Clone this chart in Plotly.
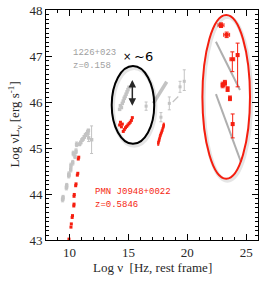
import plotly.graph_objects as go

# ---------------- data (log nu [Hz], log nuLnu [erg/s]) ----------------
# PMN J0948+0022 (red)
pmn_radio_nu = [9.95, 10.12, 10.15, 10.22, 10.25, 10.36, 10.38, 10.38, 10.40, 10.52, 10.55, 10.66, 10.70, 10.74, 10.78]
pmn_radio_L = [43.02, 43.28, 43.35, 43.49, 43.53, 43.74, 43.78, 43.95, 43.99, 44.18, 44.22, 44.41, 44.45, 44.76, 44.80]

pmn_opt_nu = [14.25, 14.32, 14.40, 14.48, 14.56, 14.65, 14.75, 14.85, 14.95, 15.05, 15.15, 15.25, 15.33]
pmn_opt_L = [45.50, 45.56, 45.46, 45.52, 45.36, 45.40, 45.44, 45.47, 45.50, 45.53, 45.56, 45.60, 45.66]

pmn_x_nu = [17.53, 17.58, 17.63, 17.68, 17.75, 17.82, 17.89, 17.96, 18.00]
pmn_x_L = [45.10, 45.15, 45.19, 45.25, 45.30, 45.35, 45.40, 45.46, 45.50]
pmn_x_err = [0.04, 0.04, 0.04, 0.04, 0.04, 0.04, 0.04, 0.04, 0.04]

pmn_g_nu = [22.86, 23.34, 23.82, 24.27, 23.00, 23.19, 23.42, 23.62, 23.85]
pmn_g_L = [47.67, 47.46, 46.93, 47.02, 46.37, 46.41, 46.28, 46.08, 45.52]
pmn_g_eup = [0.05, 0.06, 0.16, 0.26, 0.06, 0.06, 0.05, 0.05, 0.22]
pmn_g_edn = [0.05, 0.06, 0.27, 0.69, 0.06, 0.06, 0.05, 0.05, 0.30]
pmn_g_ex = [0.25, 0.25, 0.20, 0.05, 0.12, 0.12, 0.08, 0.05, 0.05]

# 1226+023 (3C 273, grey)
c_radio_nu = [9.41, 9.45, 9.73, 9.76, 9.93, 9.95, 10.10, 10.12, 10.27, 10.32, 10.46, 10.55, 10.60]
c_radio_L = [43.88, 43.92, 44.14, 44.18, 44.40, 44.43, 44.53, 44.62, 44.68, 44.88, 44.82, 44.93, 45.08]

c_mm_nu = [10.85, 10.95, 11.05, 11.15, 11.25, 11.35, 11.45, 11.55, 11.60, 11.62, 11.87]
c_mm_L = [45.08, 45.12, 45.17, 45.20, 45.24, 45.28, 45.31, 45.35, 45.38, 45.22, 45.18]
c_mm_err = [0.03, 0.03, 0.03, 0.03, 0.03, 0.03, 0.03, 0.03, 0.03, 0.08, 0.30]

c_opt_nu = [14.25, 14.32, 14.40, 14.48, 14.56, 14.64, 14.72, 14.80, 14.88, 14.96, 15.05]
c_opt_L = [45.84, 45.92, 45.88, 45.97, 46.02, 46.08, 46.12, 46.17, 46.22, 46.27, 46.32]

c_hx_nu = [16.50, 17.76, 18.47, 19.38, 19.74]
c_hx_L = [45.91, 45.67, 45.97, 46.33, 46.45]
c_hx_eup = [0.09, 0.10, 0.14, 0.12, 0.25]
c_hx_edn = [0.09, 0.10, 0.14, 0.12, 0.20]

c_xspec1_nu = [17.11, 18.25]
c_xspec1_L = [45.97, 46.44]
c_xspec2_nu = [18.76, 19.23]
c_xspec2_L = [46.00, 46.12]

c_gam1_nu = [22.43, 24.47]
c_gam1_L = [47.31, 46.26]
c_gam2_nu = [22.43, 24.55]
c_gam2_L = [46.17, 44.70]

# highlight ellipses (x0, x1, y0, y1) and arrow
black_ell = [13.58, 17.19, 45.09, 46.78]
red_ell = [21.28, 25.32, 44.33, 47.89]
arrow_nu = 15.33
arrow_L = [45.70, 46.48]

x_ticks = [10, 15, 20, 25]
y_ticks = [43, 44, 45, 46, 47, 48]

RED = "rgb(245,30,15)"
GREY = "rgb(195,195,195)"
SERIF = "Liberation Serif"
MONO = "Liberation Mono"

fig = go.Figure()

def pts(x, y, color, size=3, **kw):
    fig.add_trace(go.Scatter(x=x, y=y, mode="markers",
                             marker=dict(symbol="square", size=size, color=color, line=dict(width=0)),
                             showlegend=False, **kw))

def seg(x, y, color, width):
    fig.add_trace(go.Scatter(x=x, y=y, mode="lines", line=dict(color=color, width=width),
                             showlegend=False))

# grey 3C273
pts(c_radio_nu, c_radio_L, GREY, 3.5,
    error_y=dict(type="constant", value=0.05, color=GREY, thickness=1, width=1.5))
pts(c_mm_nu, c_mm_L, GREY, 3.5,
    error_y=dict(type="data", array=c_mm_err, color=GREY, thickness=1, width=1.5))
pts(c_opt_nu, c_opt_L, GREY, 3.5)
pts(c_hx_nu, c_hx_L, GREY, 3,
    error_y=dict(type="data", array=c_hx_eup, arrayminus=c_hx_edn, color=GREY, thickness=1, width=1.5))
seg(c_xspec1_nu, c_xspec1_L, GREY, 3.5)
seg(c_xspec2_nu, c_xspec2_L, GREY, 1.2)
seg(c_gam1_nu, c_gam1_L, "rgb(175,175,175)", 2)
seg(c_gam2_nu, c_gam2_L, "rgb(175,175,175)", 2)

# red PMN J0948+0022
pts(pmn_radio_nu, pmn_radio_L, RED, 3)
pts(pmn_opt_nu, pmn_opt_L, RED, 3)
pts(pmn_x_nu, pmn_x_L, RED, 2.5,
    error_y=dict(type="data", array=pmn_x_err, color=RED, thickness=1, width=1))
pts(pmn_g_nu, pmn_g_L, RED, 4,
    error_y=dict(type="data", array=pmn_g_eup, arrayminus=pmn_g_edn, color=RED, thickness=1, width=2),
    error_x=dict(type="data", array=pmn_g_ex, color=RED, thickness=1, width=2))

shapes = []
for ell, col in [(black_ell, "black"), (red_ell, RED)]:
    x0, x1, y0, y1 = ell
    # soft shadow
    shapes.append(dict(type="circle", xref="x", yref="y", x0=x0 + 0.1, x1=x1 + 0.1,
                       y0=y0 - 0.04, y1=y1 - 0.04, line=dict(color="rgba(0,0,0,0.10)", width=4),
                       layer="above"))
    shapes.append(dict(type="circle", xref="x", yref="y", x0=x0, x1=x1, y0=y0, y1=y1,
                       line=dict(color=col, width=2), layer="above"))

annotations = [
    dict(x=arrow_nu, y=arrow_L[1], ax=arrow_nu, ay=arrow_L[0], xref="x", yref="y",
         axref="x", ayref="y", showarrow=True, arrowhead=2, arrowside="end+start",
         arrowsize=1, arrowwidth=1.5, arrowcolor="rgb(40,40,40)", text=" "),
    dict(x=10.1, y=47.07, xref="x", yref="y", text="1226+023", showarrow=False,
         xanchor="left", font=dict(family=MONO, size=9, color="rgb(160,160,160)")),
    dict(x=10.1, y=46.78, xref="x", yref="y", text="z=0.158", showarrow=False,
         xanchor="left", font=dict(family=MONO, size=9, color="rgb(160,160,160)")),
    dict(x=12.0, y=44.05, xref="x", yref="y", text="PMN J0948+0022", showarrow=False,
         xanchor="left", font=dict(family=MONO, size=9, color=RED)),
    dict(x=12.0, y=43.76, xref="x", yref="y", text="z=0.5846", showarrow=False,
         xanchor="left", font=dict(family=MONO, size=9, color=RED)),
    dict(x=14.35, y=46.99, xref="x", yref="y", text="×", showarrow=False,
         xanchor="left", font=dict(family="DejaVu Sans", size=10, color="black")),
    dict(x=15.3, y=46.99, xref="x", yref="y", text="~6", showarrow=False,
         xanchor="left", font=dict(family="DejaVu Sans", size=13, color="black")),
    dict(x=0.5, y=-0.08, xref="paper", yref="paper", yanchor="top",
         text="Log ν  [Hz, rest frame]", showarrow=False,
         font=dict(family=SERIF, size=13, color="rgb(40,40,40)")),
    dict(x=-0.2, y=0.5, xref="paper", yref="paper", textangle=-90,
         text="Log νL<sub>ν</sub> [erg s<sup>-1</sup>]", showarrow=False,
         font=dict(family=SERIF, size=13, color="rgb(40,40,40)")),
]

axis_common = dict(showgrid=False, zeroline=False, showline=True, linecolor="black",
                   linewidth=1, mirror="allticks", ticks="inside", ticklen=6,
                   tickcolor="black", tickwidth=1,
                   tickfont=dict(family=SERIF, size=13, color="rgb(40,40,40)"))

fig.update_layout(
    width=260, height=282,
    margin=dict(l=46, r=2, t=10, b=42),
    paper_bgcolor="white", plot_bgcolor="white",
    xaxis=dict(range=[8, 26], tickvals=x_ticks,
               minor=dict(ticks="inside", dtick=1, tick0=0, ticklen=3, tickcolor="black"),
               **axis_common),
    yaxis=dict(range=[43, 48], tickvals=y_ticks,
               minor=dict(ticks="inside", dtick=0.1, tick0=0, ticklen=3, tickcolor="black"),
               **axis_common),
    shapes=shapes,
    annotations=annotations,
)

fig.write_html("out.html", config={"displayModeBar": False},
               post_script="document.body.style.margin='0';document.body.style.overflow='hidden';")
